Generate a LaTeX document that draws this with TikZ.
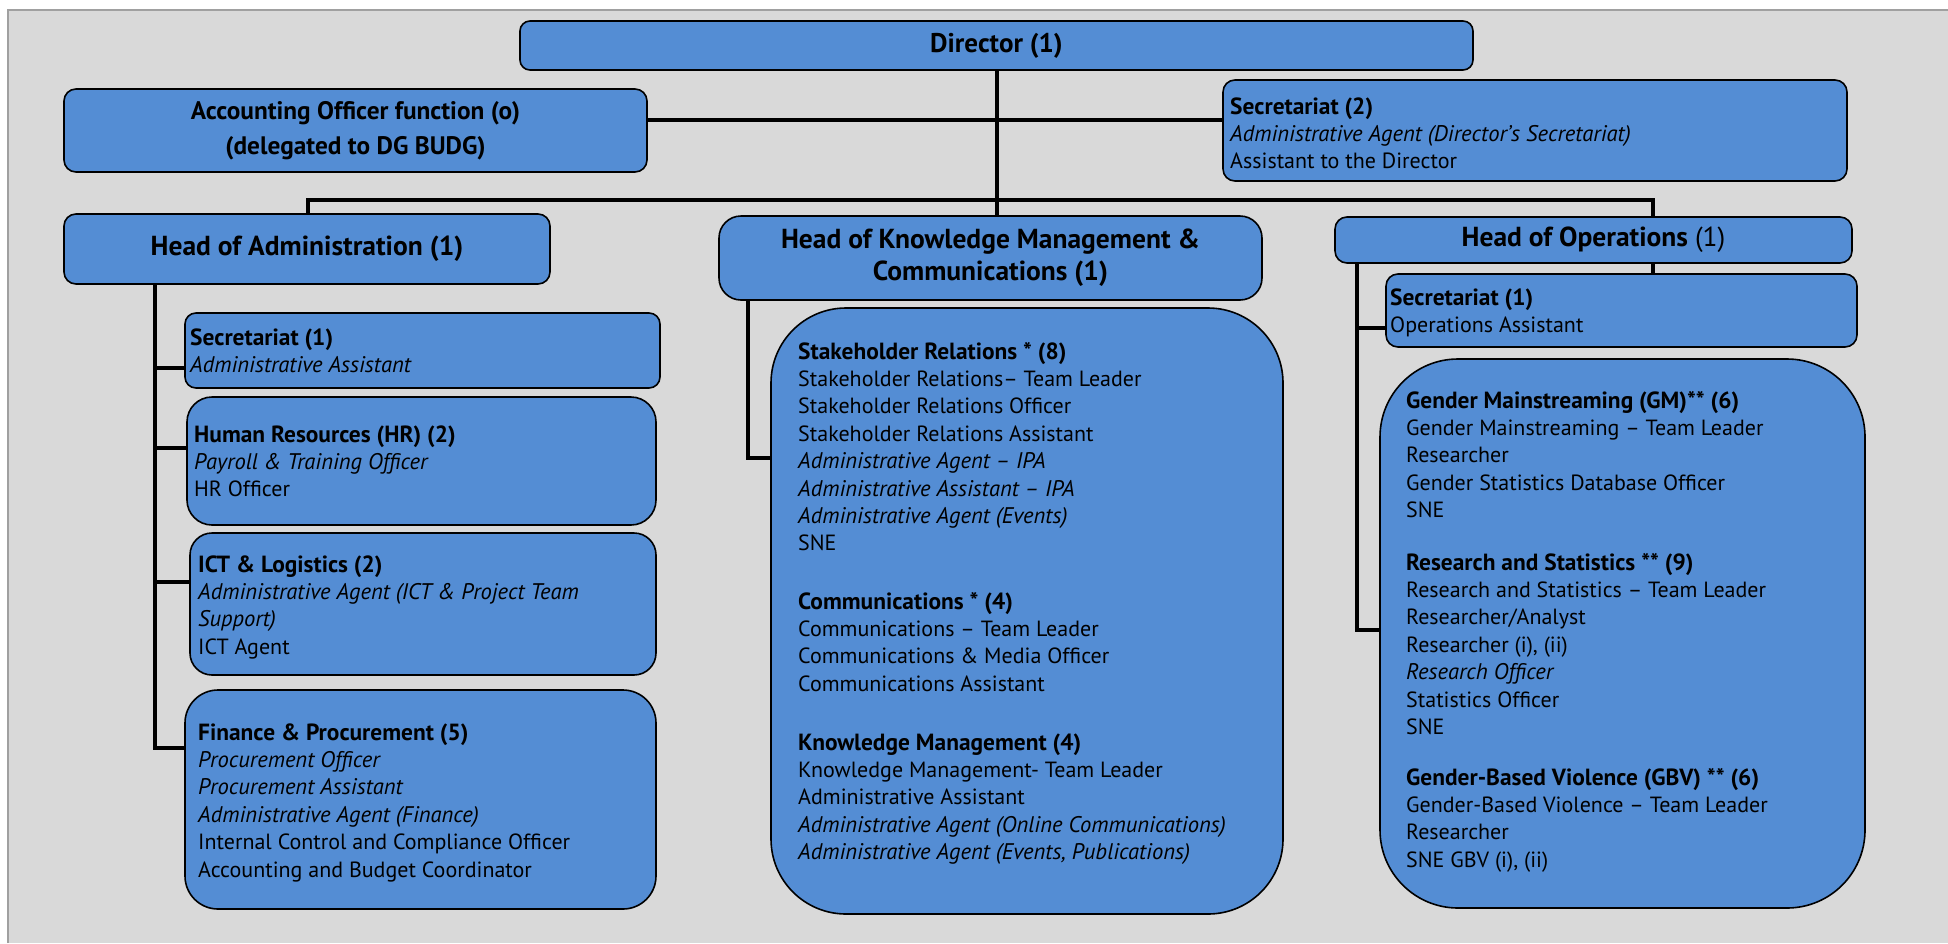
\documentclass[tikz,border=0pt]{standalone}
\usepackage{fontspec}
\setmainfont{PT Sans}
\definecolor{boxblue}{RGB}{84,141,212}
\definecolor{panelgray}{RGB}{217,217,217}
\definecolor{framegray}{RGB}{160,160,160}
\newcommand\tlines[1]{\vtop{\baselineskip=27.4pt\lineskip=0pt\lineskiplimit=-100pt\halign{##\hfil\cr#1\crcr}}}
\newcommand\hd[1]{{\fontsize{23.4}{27.4}\selectfont\bfseries #1}}
\newcommand\itl[1]{{\fontsize{22.6}{27.4}\selectfont\itshape #1}}
\begin{document}
\begin{tikzpicture}[x=1pt,y=-1pt,
  box/.style={draw=black, line width=1.6pt, fill=boxblue, rounded corners=#1, inner sep=0pt},
  box/.default=12pt,
  link/.style={line width=4.5pt, line join=miter},
  txt/.style={anchor=base west, inner sep=0pt, font=\fontsize{22}{27.4}\selectfont},
  headtxt/.style={align=center, font=\fontsize{27.5}{32}\selectfont\bfseries},
  ]
\useasboundingbox (0,0) rectangle (1948,943);
\fill[white] (0,0) rectangle (1948,943);
\fill[panelgray] (8,10) rectangle (1948,943);
\draw[framegray, line width=1.5pt] (8,943) -- (8,10) -- (1948,10);

% top level
\node[box=10pt, minimum width=953pt, minimum height=49pt, font=\fontsize{27}{30}\selectfont\bfseries] (dir) at (996.5,45.5) {Director (1)};
\node[box=12pt, minimum width=583pt, minimum height=83pt, align=center, font=\fontsize{25.3}{35}\selectfont\bfseries] (acct) at (355.5,130.5) {Accounting Officer function (o)\\(delegated to DG BUDG)};
\node[box=12pt, minimum width=624pt, minimum height=101pt] (sec2) at (1535,130.5) {};
\node[txt] (sec2t) at (1230,114) {\tlines{\hd{Secretariat (2)}\cr \itl{Administrative Agent (Director’s Secretariat)}\cr Assistant to the Director}};

% heads
\node[box=12pt, minimum width=486pt, minimum height=70pt, headtxt] (hadm) at (307,249) {Head of Administration (1)};
\node[box=22pt, minimum width=543pt, minimum height=84pt, headtxt] (hkm) at (990.5,258) {Head of Knowledge Management \&\\Communications (1)};
\node[box=12pt, minimum width=517pt, minimum height=46pt, headtxt] (hops) at (1593.5,240) {Head of Operations \mdseries(1)};

% administration units
\node[box=11pt, minimum width=475pt, minimum height=75pt] (asec) at (422.5,350.5) {};
\node[txt] (asect) at (190,345) {\tlines{\hd{Secretariat (1)}\cr \itl{Administrative Assistant}}};
\node[box=25pt, minimum width=469pt, minimum height=128pt] (hr) at (421.5,461) {};
\node[txt] (hrt) at (194,442) {\tlines{\hd{Human Resources (HR) (2)}\cr \itl{Payroll \& Training Officer}\cr HR Officer}};
\node[box=22pt, minimum width=466pt, minimum height=142pt] (ict) at (423,604) {};
\node[txt] (ictt) at (198,572) {\tlines{\hd{ICT \& Logistics (2)}\cr \itl{Administrative Agent (ICT \& Project Team}\cr \itl{Support)}\cr ICT Agent}};
\node[box=33pt, minimum width=471pt, minimum height=219pt] (fin) at (420.5,799.5) {};
\node[txt] (fint) at (198,740) {\tlines{\hd{Finance \& Procurement (5)}\cr \itl{Procurement Officer}\cr \itl{Procurement Assistant}\cr \itl{Administrative Agent (Finance)}\cr Internal Control and Compliance Officer\cr Accounting and Budget Coordinator}};

% knowledge management body
\node[box=75pt, minimum width=512pt, minimum height=606pt] (kmb) at (1027,611) {};
\node[txt] (km1) at (798,359) {\tlines{\hd{Stakeholder Relations * (8)}\cr Stakeholder Relations– Team Leader\cr Stakeholder Relations Officer\cr Stakeholder Relations Assistant\cr \itl{Administrative Agent – IPA}\cr \itl{Administrative Assistant – IPA}\cr \itl{Administrative Agent (Events)}\cr SNE}};
\node[txt] (km2) at (798,609) {\tlines{\hd{Communications * (4)}\cr Communications – Team Leader\cr Communications \& Media Officer\cr Communications Assistant}};
\node[txt] (km3) at (798,750) {\tlines{\hd{Knowledge Management (4)}\cr Knowledge Management- Team Leader\cr Administrative Assistant\cr \itl{Administrative Agent (Online Communications)}\cr \itl{Administrative Agent (Events, Publications)}}};

% operations
\node[box=12pt, minimum width=471pt, minimum height=73pt] (osec) at (1621.5,310.5) {};
\node[txt] (osect) at (1390,305) {\tlines{\hd{Secretariat (1)}\cr Operations Assistant}};
\node[box=78pt, minimum width=485pt, minimum height=549pt] (opsb) at (1622.5,633.5) {};
\node[txt] (ops1) at (1406,408) {\tlines{\hd{Gender Mainstreaming (GM)** (6)}\cr Gender Mainstreaming – Team Leader\cr Researcher\cr Gender Statistics Database Officer\cr SNE}};
\node[txt] (ops2) at (1406,570) {\tlines{\hd{Research and Statistics ** (9)}\cr Research and Statistics – Team Leader\cr Researcher/Analyst\cr Researcher (i), (ii)\cr \itl{Research Officer}\cr Statistics Officer\cr SNE}};
\node[txt] (ops3) at (1406,785) {\tlines{\hd{Gender-Based Violence (GBV) ** (6)}\cr Gender-Based Violence – Team Leader\cr Researcher\cr SNE GBV (i), (ii)}};

% connector coordinates
\coordinate (jA) at (308,200);
\coordinate (jK) at (997,200);
\coordinate (jO) at (1653,200);
\coordinate (y120) at (0,120);
\coordinate (av) at (155,0);
\coordinate (kv) at (748,0);
\coordinate (ov) at (1357,0);
\coordinate (y368) at (0,368);
\coordinate (y448) at (0,448);
\coordinate (y582) at (0,582);
\coordinate (y748) at (0,748);
\coordinate (y458) at (0,458);
\coordinate (y328) at (0,328);
\coordinate (y630) at (0,630);

% connectors
\draw[link] (dir.south -| jK) -- (hkm.north -| jK);
\draw[link] (hadm.north -| jA) -- (jA) -- (jO) -- (hops.north -| jO);
\draw[link] (acct.east |- y120) -- (sec2.west |- y120);
\draw[link] (hadm.south -| av) |- (fin.west |- y748);
\draw[link] (av |- y368) -- (asec.west |- y368);
\draw[link] (av |- y448) -- (hr.west |- y448);
\draw[link] (av |- y582) -- (ict.west |- y582);
\draw[link] (hkm.south -| kv) |- (kmb.west |- y458);
\draw[link] (hops.south -| ov) |- (opsb.west |- y630);
\draw[link] (ov |- y328) -- (osec.west |- y328);
\draw[link] (hops.south -| jO) -- (osec.north -| jO);
\end{tikzpicture}
\end{document}
